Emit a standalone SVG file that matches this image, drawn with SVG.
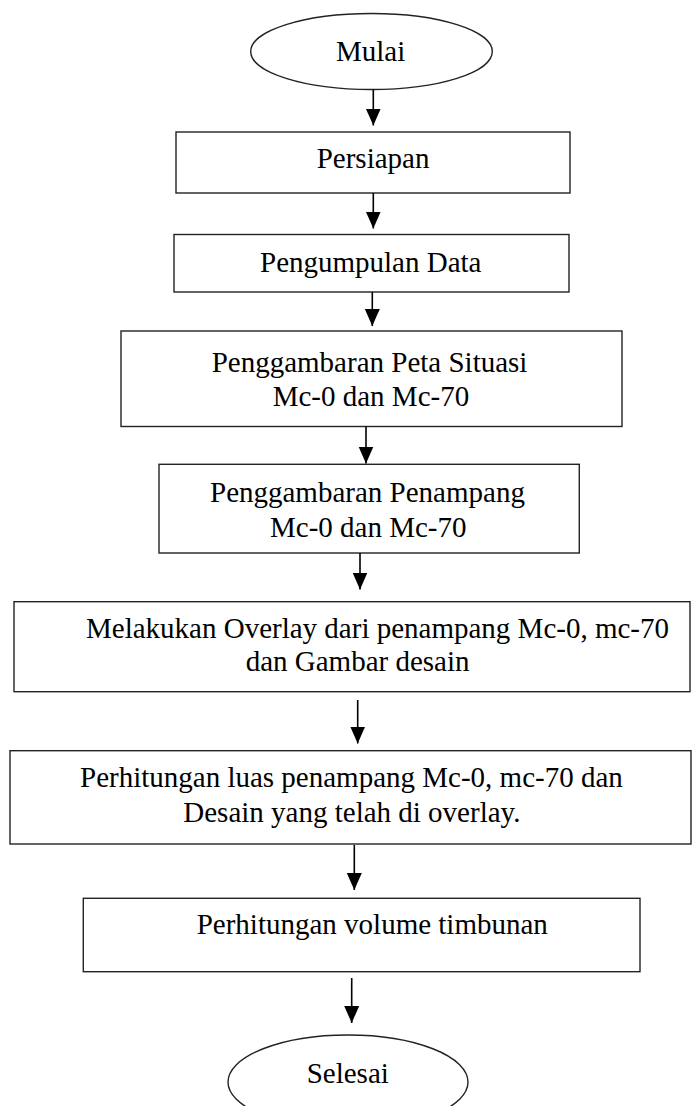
<svg xmlns="http://www.w3.org/2000/svg" width="692" height="1106" viewBox="0 0 692 1106">
<style>
.box{fill:#fff;stroke:#222;stroke-width:1.4}
.t{font-family:"Liberation Serif","Times New Roman",serif;font-size:29px;fill:#000}
.c{stroke:#000;stroke-width:1.6;fill:none}
</style>
<defs>
<marker id="ah" markerUnits="userSpaceOnUse" markerWidth="18" markerHeight="16" refX="17" refY="7.5" orient="auto" viewBox="0 0 18 16">
<path d="M0,0 L17,7.5 L0,15 z" fill="#000"/>
</marker>
</defs>
<rect width="692" height="1106" fill="#fff"/>
<g id="mulai">
<ellipse class="box" cx="371.5" cy="51.5" rx="120.8" ry="38"/>
<text class="t" x="336" y="61">Mulai</text>
</g>
<g id="persiapan">
<rect class="box" x="176" y="132" width="394" height="61"/>
<text class="t" x="316.7" y="168">Persiapan</text>
</g>
<g id="pengumpulan">
<rect class="box" x="174" y="234.5" width="395" height="57.5"/>
<text class="t" x="260" y="271.7">Pengumpulan Data</text>
</g>
<g id="peta">
<rect class="box" x="121" y="331" width="501" height="95.5"/>
<text class="t" x="211.7" y="371.7">Penggambaran Peta Situasi</text>
<text class="t" x="272.7" y="406">Mc-0 dan Mc-70</text>
</g>
<g id="penampang">
<rect class="box" x="159" y="464.3" width="420.3" height="88.7"/>
<text class="t" x="210" y="501.7">Penggambaran Penampang</text>
<text class="t" x="270" y="537.3">Mc-0 dan Mc-70</text>
</g>
<g id="overlay">
<rect class="box" x="14" y="601.7" width="676" height="90"/>
<text class="t" x="86" y="638.3">Melakukan Overlay dari penampang Mc-0, mc-70</text>
<text class="t" x="245.7" y="671">dan Gambar desain</text>
</g>
<g id="luas">
<rect class="box" x="10" y="750.7" width="681" height="93.3"/>
<text class="t" x="80" y="786.7">Perhitungan luas penampang Mc-0, mc-70 dan</text>
<text class="t" x="183.3" y="821.7">Desain yang telah di overlay.</text>
</g>
<g id="volume">
<rect class="box" x="83.3" y="898.3" width="556.7" height="73.4"/>
<text class="t" x="196.7" y="934">Perhitungan volume timbunan</text>
</g>
<g id="selesai">
<ellipse class="box" cx="348" cy="1082" rx="120" ry="47"/>
<text class="t" x="306.7" y="1082.7">Selesai</text>
</g>
<g id="connectors">
<line class="c" x1="373.3" y1="89.5" x2="373.3" y2="125.5" marker-end="url(#ah)"/>
<line class="c" x1="373.3" y1="193" x2="373.3" y2="228.5" marker-end="url(#ah)"/>
<line class="c" x1="372.3" y1="292" x2="372.3" y2="326" marker-end="url(#ah)"/>
<line class="c" x1="366" y1="426.5" x2="366" y2="463.5" marker-end="url(#ah)"/>
<line class="c" x1="360" y1="553" x2="360" y2="589.5" marker-end="url(#ah)"/>
<line class="c" x1="357.7" y1="700" x2="357.7" y2="743.5" marker-end="url(#ah)"/>
<line class="c" x1="354.3" y1="845" x2="354.3" y2="890" marker-end="url(#ah)"/>
<line class="c" x1="351.7" y1="978" x2="351.7" y2="1023" marker-end="url(#ah)"/>
</g>
</svg>
